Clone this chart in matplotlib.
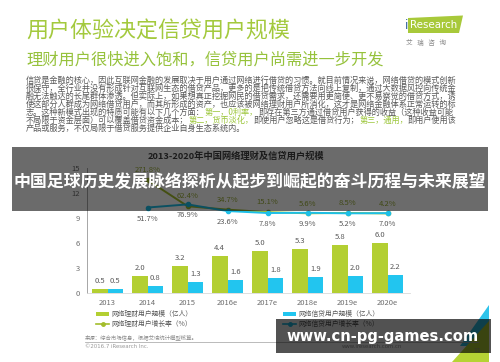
import numpy as np
import matplotlib
matplotlib.use('Agg')
import matplotlib.pyplot as plt
from matplotlib.patches import Rectangle, Polygon

plt.rcParams['font.family'] = ['Noto Sans CJK SC', 'DejaVu Sans']

# data
years = ['2013', '2014', '2015', '2016e', '2017e', '2018e', '2019e', '2020e']
wealth_users = [0.5, 2.0, 3.2, 4.4, 5.0, 5.3, 5.8, 6.0]     # 亿人
credit_users = [0.5, 0.8, 1.3, 1.6, 1.8, 1.9, 2.0, 2.2]     # 亿人
wealth_growth = [np.nan, 271.8, 62.4, 34.7, 15.1, 5.6, 8.5, 4.2]   # %
credit_growth = [np.nan, 51.7, 76.9, 23.6, 7.8, 9.9, 5.2, 7.0]     # %
yticks = [0, 3, 6, 9, 12, 15]

title = '用户体验决定信贷用户规模'
subtitle = '理财用户很快进入饱和，信贷用户尚需进一步开发'
chart_title = '2013-2020年中国网络理财及信贷用户规模'
legend_labels = ['网络理财用户规模（亿人）', '网络信贷用户规模（亿人）',
                 '网络理财用户增长率（%）', '网络信贷用户增长率（%）']
banner = '中国足球历史发展脉络探析从起步到崛起的奋斗历程与未来展望'
site = 'www.cn-pg-games.com'

GRAY = '#595959'
HL = '#9cc63b'
paragraph = [
    [('信贷是金融的核心，因此互联网金融的发展取决于用户通过网络进行借贷的习惯。就目前情况来说，网络借贷的模式创新', GRAY)],
    [('很保守，全行业并没有形成针对互联网生态的借贷产品，更多的是把传统借贷方法向线上复制，通过大数据风控向传统金', GRAY)],
    [('融无法触达的长尾群体渗透。但实际上，如果想真正挖掘网民的借贷需求，还需要用更简便、更不易察觉的借贷方式，诱', GRAY)],
    [('使这部分人群成为网络借贷用户，而其所形成的资产，也应该被网络理财用户所消化，这才是网络金融体系正常运转的标', GRAY)],
    [('志。这种新模式出现的特质可能有以下几个方面：', GRAY), ('第一，0利率，', HL),
     ('即存在第三方通过借贷用户获得的收益（这种收益可能', GRAY)],
    [('不局限于资金层面）可以覆盖借贷资金成本；', GRAY), ('第二，货币淡化，', HL),
     ('即使用户忽略这是借贷行为；', GRAY), ('第三，通用，', HL), ('即用户使用该', GRAY)],
    [('产品或服务，不仅局限于借贷服务提供企业自身生态系统内。', GRAY)],
]

C_GREEN = '#b3cf32'
C_BLUE = '#22c5ef'
C_GLINE = '#a3bd2c'
C_BLINE = '#1cbfe8'

fig = plt.figure(figsize=(5, 3.62), dpi=100)
fig.patch.set_facecolor('white')

# background layer in pixel coordinates
bg = fig.add_axes([0, 0, 1, 1], zorder=0)
bg.set_xlim(0, 500)
bg.set_ylim(362, 0)
bg.axis('off')

bg.text(26, 32, title, fontsize=15.8, color='#a3c93d', va='center', ha='left')
bg.text(26, 60, subtitle, fontsize=11.7, color='#96c23c', va='center', ha='left')

# iResearch logo
bg.add_patch(Polygon([(408, 18), (463, 15.5), (459, 33), (408, 33)], closed=True,
                     facecolor='#a8c93a', edgecolor='none'))
bg.text(405, 25.5, 'i', fontsize=8.5, color='#2a5d9a', va='center', ha='left', family='DejaVu Sans')
bg.text(410, 25.5, 'Research', fontsize=7.4, color='white', va='center', ha='left', family='DejaVu Sans')
bg.text(406, 43, '艾   瑞   咨   询', fontsize=4.8, color='#8a8a8a', va='center', ha='left')

# paragraph with highlighted parts
fig.canvas.draw()
rend = fig.canvas.get_renderer()
for i, line in enumerate(paragraph):
    y = 80 + i * 8.1
    x = 26
    for seg, col in line:
        t = bg.text(x, y, seg, fontsize=5.9, color=col, va='center', ha='left')
        x += t.get_window_extent(renderer=rend).width

# legend
bg.add_patch(Rectangle((96, 312), 13, 4.2, facecolor=C_GREEN, edgecolor='none'))
bg.text(111, 314, legend_labels[0], fontsize=4.9, color=GRAY, va='center')
bg.add_patch(Rectangle((283, 312), 13, 4.2, facecolor=C_BLUE, edgecolor='none'))
bg.text(298, 314, legend_labels[1], fontsize=4.9, color=GRAY, va='center')
bg.plot([96, 109], [324, 324], color=C_GLINE, lw=1.2)
bg.plot([102.5], [324], 'o', color=C_GLINE, ms=2.5)
bg.text(111, 324, legend_labels[2], fontsize=4.9, color=GRAY, va='center')
bg.plot([283, 296], [324, 324], color=C_BLINE, lw=1.2)
bg.plot([289.5], [324], 'o', color=C_BLINE, ms=2.5)
bg.text(298, 324, legend_labels[3], fontsize=4.9, color=GRAY, va='center')

# footer
bg.text(85, 337, '来源：综合市场信息，根据艾瑞统计模型核算。', fontsize=3.9, color='#8a8a8a', va='center')
bg.plot([85, 478], [341.7, 341.7], color='#b0b0b0', lw=0.6)
bg.text(85, 347, '©2016.7 iResearch Inc.', fontsize=3.9, color='#9a9a9a', va='center', family='DejaVu Sans')
bg.text(372, 347, 'www.iresearch.com.cn', fontsize=3.9, color='#9a9a9a', va='center', ha='center',
        family='DejaVu Sans')
bg.add_patch(Polygon([(489, 305), (489, 346), (460, 346)], closed=True, facecolor='#2ec3ea', edgecolor='none'))
bg.add_patch(Polygon([(452, 362), (489, 321), (489, 362)], closed=True, facecolor='#b5d334', edgecolor='none'))
bg.text(477, 350, '11', fontsize=4.5, color='#9a9a9a', va='center', ha='center', family='DejaVu Sans')

# chart
ax = fig.add_axes([87 / 500, 1 - 293 / 362, 323 / 500, 125 / 362], zorder=2)
ax.patch.set_visible(False)
x = np.arange(len(years))
w = 0.39
b1 = ax.bar(x - w / 2, wealth_users, w, color=C_GREEN)
b2 = ax.bar(x + w / 2, credit_users, w, color=C_BLUE)
for bars, vals in ((b1, wealth_users), (b2, credit_users)):
    for r, v in zip(bars, vals):
        ax.annotate(f'{v:.1f}', (r.get_x() + r.get_width() / 2, v), xytext=(0, 5.8),
                    textcoords='offset points', ha='center', va='center', fontsize=5.5, color=GRAY)
ax.set_xlim(-0.5125, 7.56)
ax.set_ylim(0, 15)
ax.set_yticks(yticks)
ax.set_xticks(x)
ax.set_xticklabels(years)
ax.tick_params(axis='both', length=0, labelsize=5.5, labelcolor='#6e6e6e')
ax.tick_params(axis='y', pad=5)
ax.tick_params(axis='x', pad=4.5)
for s in ('top', 'right'):
    ax.spines[s].set_visible(False)
ax.spines['left'].set_color('#a6a6a6')
ax.spines['left'].set_linewidth(0.7)
ax.spines['bottom'].set_color('#d9d9d9')
ax.spines['bottom'].set_linewidth(0.6)

ax2 = ax.twinx()
ax2.patch.set_visible(False)
ax2.set_ylim(-632, 368)
ax2.axis('off')
ax2.plot(x, wealth_growth, color=C_GLINE, lw=1.4, marker='o', ms=3)
ax2.plot(x, credit_growth, color=C_BLINE, lw=1.4, marker='o', ms=3)
for xi, v in zip(x, wealth_growth):
    if not np.isnan(v):
        ax2.annotate(f'{v:.1f}%', (xi, v), xytext=(0, 7), textcoords='offset points',
                     ha='center', va='center', fontsize=5.5, color='#9aae36')
for xi, v in zip(x, credit_growth):
    if not np.isnan(v):
        ax2.annotate(f'{v:.1f}%', (xi, v), xytext=(0, -8), textcoords='offset points',
                     ha='center', va='center', fontsize=5.5, color=GRAY)

fig.text(236 / 500, 1 - 156 / 362, chart_title, fontsize=6.7, fontweight='bold', color='#404040',
         ha='center', va='center', zorder=3)

# overlays on top
top = fig.add_axes([0, 0, 1, 1], zorder=10)
top.set_xlim(0, 500)
top.set_ylim(362, 0)
top.axis('off')
top.patch.set_visible(False)
top.add_patch(Rectangle((12, 147), 476, 64, facecolor='black', alpha=0.58, edgecolor='none'))
top.text(250, 182, banner, fontsize=12.2, fontweight='bold', color='white', ha='center', va='center')
top.add_patch(Rectangle((276, 319), 215, 34, facecolor='black', alpha=0.68, edgecolor='none'))
top.text(383, 337, site, fontsize=10.6, fontweight='bold', color='white', ha='center', va='center',
         family='DejaVu Sans')

fig.savefig('out.png', dpi=100)
